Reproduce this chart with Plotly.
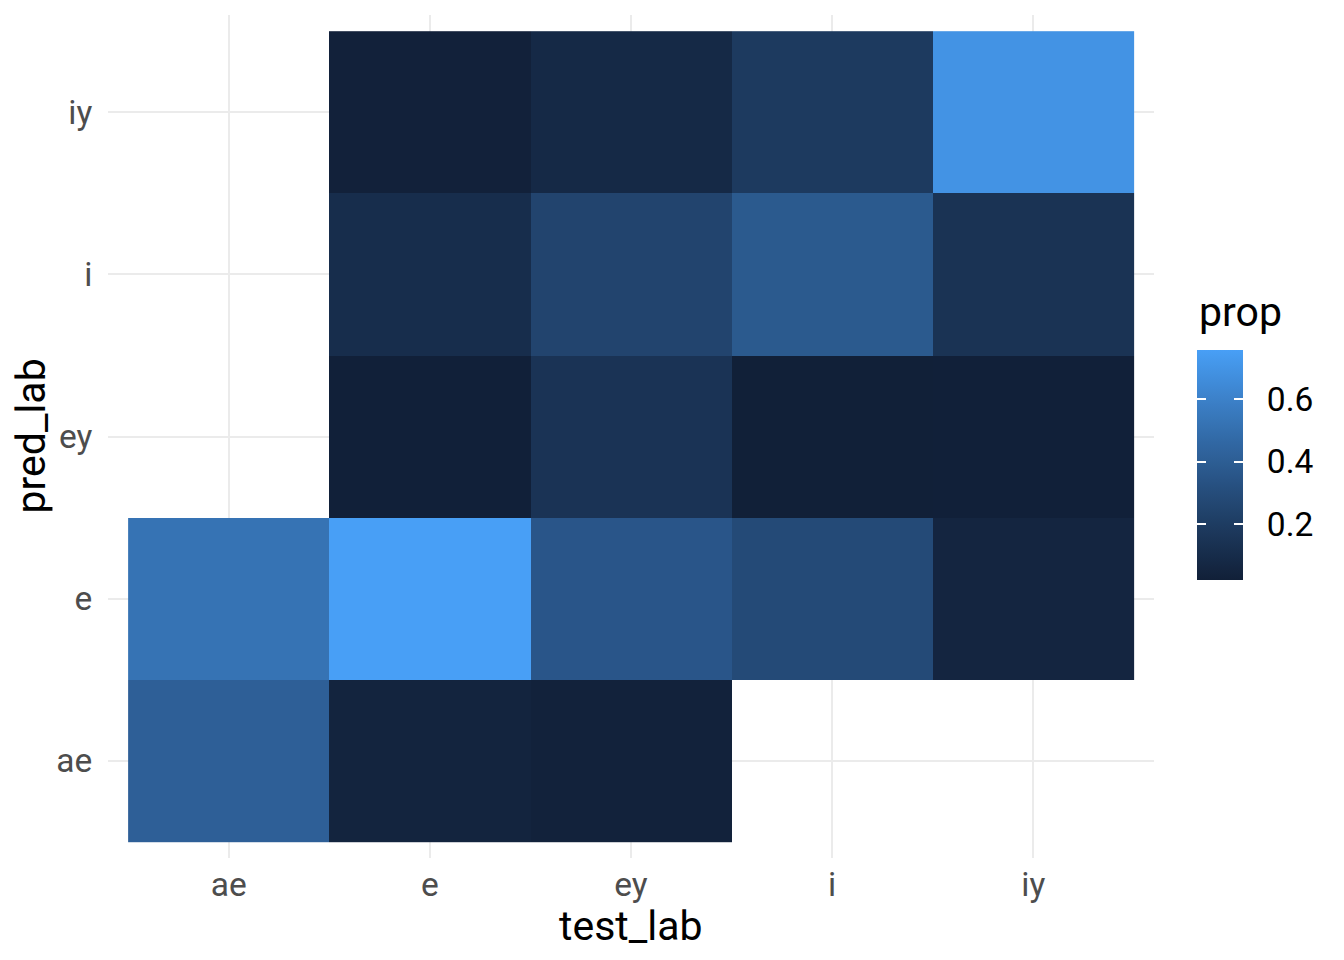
import numpy as np
import plotly.graph_objects as go

# categories (test label on x, predicted label on y)
test_lab = ["ae", "e", "ey", "i", "iy"]
pred_lab = ["ae", "e", "ey", "i", "iy"]

# proportions per column of test_lab, rows in pred_lab order; None = no tile
prop_ae = [0.41, 0.52, None, None, None]
prop_e = [0.05, 0.757, 0.025, 0.107, 0.03]
prop_ey = [0.035, 0.355, 0.147, 0.25, 0.085]
prop_i = [None, 0.286, 0.022, 0.377, 0.19]
prop_iy = [None, 0.06, 0.025, 0.143, 0.693]

legend_ticks = [0.2, 0.4, 0.6]


# ggplot-like gradient, interpolated in Lab space
def _to_lab(hexcol):
    rgb = np.array([int(hexcol[i:i + 2], 16) for i in (1, 3, 5)]) / 255.0
    lin = np.where(rgb <= 0.04045, rgb / 12.92, ((rgb + 0.055) / 1.055) ** 2.4)
    m = np.array([[0.4124, 0.3576, 0.1805],
                  [0.2126, 0.7152, 0.0722],
                  [0.0193, 0.1192, 0.9505]])
    xyz = m @ lin / np.array([0.95047, 1.0, 1.08883])
    f = np.where(xyz > 0.008856, np.cbrt(xyz), 7.787 * xyz + 16 / 116)
    return np.array([116 * f[1] - 16, 500 * (f[0] - f[1]), 200 * (f[1] - f[2])])


def _from_lab(lab):
    fy = (lab[0] + 16) / 116
    fx = fy + lab[1] / 500
    fz = fy - lab[2] / 200
    f = np.array([fx, fy, fz])
    xyz = np.where(f ** 3 > 0.008856, f ** 3, (f - 16 / 116) / 7.787)
    xyz = xyz * np.array([0.95047, 1.0, 1.08883])
    minv = np.array([[3.2406, -1.5372, -0.4986],
                     [-0.9689, 1.8758, 0.0415],
                     [0.0557, -0.2040, 1.0570]])
    lin = np.clip(minv @ xyz, 0, 1)
    rgb = np.where(lin <= 0.0031308, 12.92 * lin, 1.055 * lin ** (1 / 2.4) - 0.055)
    r, g, b = (np.clip(rgb, 0, 1) * 255).round().astype(int)
    return f"rgb({r},{g},{b})"


low, high = _to_lab("#112038"), _to_lab("#489FF6")
colorscale = [[t, _from_lab(low + (high - low) * t)] for t in np.linspace(0, 1, 21)]

z = np.array([prop_ae, prop_e, prop_ey, prop_i, prop_iy], dtype=float).T  # rows = pred_lab
zmin, zmax = np.nanmin(z), np.nanmax(z)

# layout geometry (figure pixels)
W, H = 1344, 960
ml, mr, mt, mb = 100, 198, 7, 110
pw, ph = W - ml - mr, H - mt - mb
bar_x = 1.0411          # paper coords, left edge of the colour bar
bar_len, bar_thick = 230, 46
bar_yc = 0.4662
tick_font = 33.5
title_font = 41

fig = go.Figure(go.Heatmap(
    x=test_lab,
    y=pred_lab,
    z=z,
    zmin=zmin, zmax=zmax,
    colorscale=colorscale,
    colorbar=dict(
        tickvals=legend_ticks,
        ticktext=["\u00a0\u00a0" + f"{v:.1f}" for v in legend_ticks],
        tickfont=dict(size=tick_font, color="black"),
        ticks="inside", ticklen=9, tickcolor="white", tickwidth=1.5,
        outlinewidth=0,
        thickness=bar_thick,
        len=bar_len, lenmode="pixels",
        x=bar_x, xanchor="left", xpad=0,
        y=bar_yc, yanchor="middle", ypad=0,
    ),
    hoverongaps=False,
))

# white ticks on the left edge of the colour bar too (ggplot style),
# drawn as tiny white annotation boxes so they sit above the bar
bar_bottom = bar_yc - bar_len / ph / 2
for v in legend_ticks:
    yv = bar_bottom + (v - zmin) / (zmax - zmin) * bar_len / ph
    fig.add_annotation(text="", xref="paper", yref="paper",
                       x=bar_x, y=yv, xanchor="left", yanchor="middle",
                       width=9, height=1.5, borderpad=0, borderwidth=0,
                       bgcolor="white", showarrow=False)

# legend title
fig.add_annotation(text="prop", xref="paper", yref="paper",
                   x=bar_x, y=bar_yc + bar_len / ph / 2 + 12 / ph,
                   xanchor="left", yanchor="bottom", showarrow=False,
                   font=dict(size=title_font, color="black"))

# axis titles placed as annotations (ggplot spacing)
fig.add_annotation(text="test_lab", xref="paper", yref="paper",
                   x=0.5, y=-68 / ph, xanchor="center", yanchor="middle",
                   showarrow=False, font=dict(size=title_font, color="black"))
fig.add_annotation(text="pred_lab", xref="paper", yref="paper",
                   x=-78 / pw, y=0.5, xanchor="center", yanchor="middle",
                   textangle=-90, showarrow=False, height=44, borderpad=0,
                   font=dict(size=title_font, color="black"))

axis_common = dict(
    type="category",
    showgrid=True, gridcolor="#EBEBEB", gridwidth=2.1,
    zeroline=False, showline=False, automargin=False,
    tickfont=dict(size=tick_font, color="#4D4D4D"),
)

fig.update_layout(
    width=W, height=H,
    margin=dict(l=ml, r=mr, t=mt, b=mb),
    paper_bgcolor="white", plot_bgcolor="white",
    font=dict(family="Roboto, Liberation Sans, sans-serif"),
    xaxis=dict(axis_common, categoryorder="array", categoryarray=test_lab,
               range=[-0.6, 4.6], ticks="", ticklabelstandoff=3),
    yaxis=dict(axis_common, categoryorder="array", categoryarray=pred_lab,
               range=[-0.6, 4.6], ticks="outside", ticklen=8, tickcolor="rgba(0,0,0,0)"),
)

fig.write_html("out.html")
